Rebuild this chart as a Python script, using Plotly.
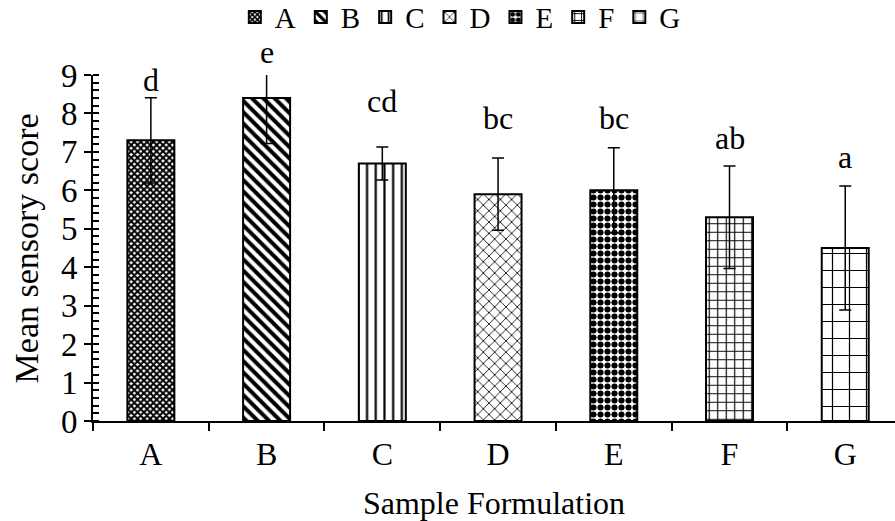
import plotly.graph_objects as go

categories = ["A", "B", "C", "D", "E", "F", "G"]
means = [7.3, 8.4, 6.7, 5.9, 6.0, 5.3, 4.5]
sds = [1.11, 1.18, 0.43, 0.94, 1.11, 1.33, 1.61]
letters = ["d", "e", "cd", "bc", "bc", "ab", "a"]
letter_y = [8.36, 9.08, 7.8, 7.35, 7.35, 6.85, 6.35]

patterns = [
    dict(shape="x", size=4.5, solidity=0.7),
    dict(shape="\\", size=8, solidity=0.5),
    dict(shape="|", size=8.7, solidity=0.25),
    dict(shape="x", size=8, solidity=0.2),
    dict(shape=".", size=7, solidity=0.6),
    dict(shape="+", size=8.5, solidity=0.25),
    dict(shape="+", size=17, solidity=0.14),
]

FONT = "Liberation Serif"
FS = 32
YMAX = 9

fig = go.Figure()
for i, c in enumerate(categories):
    p = patterns[i]
    fig.add_trace(go.Bar(
        x=[c], y=[means[i]], name=c, width=0.406,
        marker=dict(color="white", line=dict(color="black", width=2),
                    pattern=dict(shape=p["shape"], size=p["size"], solidity=p["solidity"],
                                 fgcolor="black", bgcolor="white", fillmode="replace")),
        error_y=dict(type="data", array=[sds[i]], visible=True, color="black",
                     thickness=1.5, width=6),
    ))

# helper trace for inner ticks of the y axis
fig.add_trace(go.Scatter(x=categories, y=[None] * len(categories), yaxis="y2",
                         showlegend=False, hoverinfo="skip"))

for i, c in enumerate(categories):
    fig.add_annotation(x=c, y=letter_y[i] / YMAX, yref="paper", text=letters[i],
                       showarrow=False, yanchor="bottom",
                       font=dict(family=FONT, size=FS, color="black"))

# y axis title as rotated annotation
fig.add_annotation(x=-0.083, xref="paper", y=0.5, yref="paper", text="Mean sensory score",
                   textangle=-90, showarrow=False, xanchor="center", yanchor="middle",
                   font=dict(family=FONT, size=34, color="black"))

fig.update_layout(
    width=895, height=521,
    margin=dict(l=93, r=0, t=75, b=100),
    paper_bgcolor="white", plot_bgcolor="white",
    barmode="overlay",
    font=dict(family=FONT, size=FS, color="black"),
    legend=dict(orientation="h", x=0.458, xanchor="center", y=0.967, yref="container",
                yanchor="middle", font=dict(family=FONT, size=29, color="black"),
                itemwidth=30, traceorder="normal", bgcolor="rgba(0,0,0,0)"),
    xaxis=dict(range=[-0.5, 6.43], showline=True, linecolor="black", linewidth=2,
               ticks="outside", ticklen=8, tickwidth=2, tickcolor="black",
               tickson="boundaries", showgrid=False, zeroline=False,
               ticklabelstandoff=4,
               title=dict(text="Sample Formulation", font=dict(family=FONT, size=FS, color="black"),
                          standoff=20),
               tickfont=dict(family=FONT, size=FS, color="black")),
    yaxis=dict(range=[0, YMAX], dtick=1, showline=True, linecolor="black", linewidth=2,
               ticks="outside", ticklen=7, tickwidth=2, tickcolor="black",
               minor=dict(dtick=0.2, ticks="inside", ticklen=6, tickwidth=1.5, tickcolor="black"),
               showgrid=False, zeroline=False,
               tickfont=dict(family=FONT, size=33, color="black")),
    yaxis2=dict(range=[0, YMAX], overlaying="y", side="left", dtick=1, ticks="inside",
                ticklen=6, tickwidth=2, tickcolor="black", showticklabels=False,
                showgrid=False, zeroline=False, showline=False),
)

fig.write_html("out.html")
